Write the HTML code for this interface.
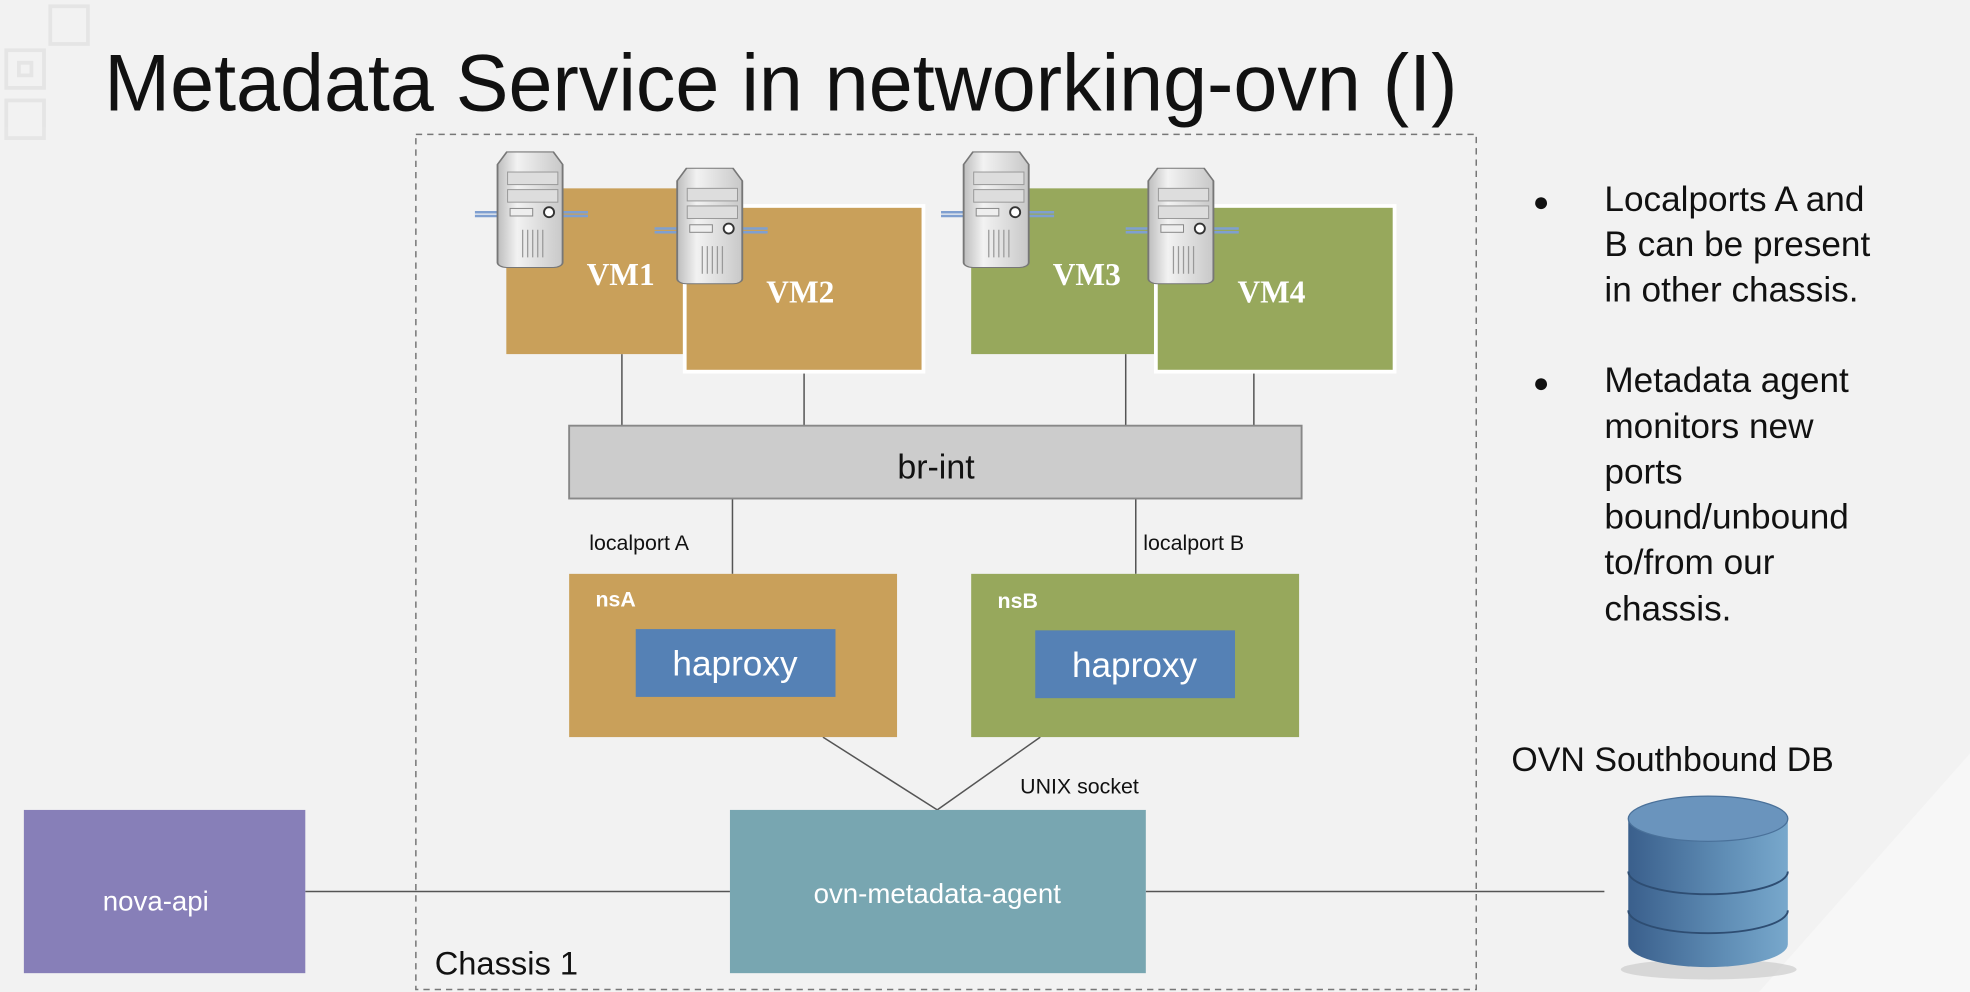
<!DOCTYPE html>
<html><head><meta charset="utf-8"><style>html,body{margin:0;padding:0;background:#f2f2f2;}svg{display:block}</style></head>
<body>
<svg width="1970" height="992" viewBox="0 0 1568 790" preserveAspectRatio="none" xmlns="http://www.w3.org/2000/svg" font-family="Liberation Sans, sans-serif">
<defs>
<linearGradient id="cyl" x1="0" x2="1" y1="0" y2="0"><stop offset="0" stop-color="#3a5f8c"/><stop offset="0.6" stop-color="#5f8db5"/><stop offset="1" stop-color="#78a8cc"/></linearGradient>
<linearGradient id="srv" x1="0" x2="1"><stop offset="0" stop-color="#bdbdbd"/><stop offset="0.3" stop-color="#f2f2f2"/><stop offset="1" stop-color="#c8c8c8"/></linearGradient>
<g id="server">
<path d="M-22,48 h90 M-22,51 h90" stroke="#7f9fd0" stroke-width="2"/>
<path d="M4,0 h20 l4,10 v78 a4,4 0 0 1 -4,4 h-20 a4,4 0 0 1 -4,-4 v-78 z" transform="translate(-4,0) scale(1.85,1)" fill="url(#srv)" stroke="#777" stroke-width="0.8"/>
<rect x="4" y="16" width="40" height="10" fill="#ddd" stroke="#999" stroke-width="0.8"/>
<rect x="4" y="30" width="40" height="10" fill="#ddd" stroke="#999" stroke-width="0.8"/>
<rect x="6" y="45" width="18" height="6" fill="#eee" stroke="#888" stroke-width="0.8"/>
<circle cx="37" cy="48" r="4" fill="#fff" stroke="#333" stroke-width="1.5"/>
<path d="M16,62 v22 M20,62 v22 M24,62 v22 M28,62 v22 M32,62 v22" stroke="#999" stroke-width="1"/>
</g>
</defs>
<rect width="1568" height="790" fill="#f2f2f2"/>
<path d="M1568,600 L1400,790 L1568,790 Z" fill="#f7f7f7"/>
<g stroke="#e2e2e2" fill="none" stroke-width="3" opacity="0.8">
<rect x="5" y="40" width="30" height="30"/><rect x="15" y="50" width="10" height="10"/><rect x="40" y="5" width="30" height="30"/><rect x="5" y="80" width="30" height="30"/>
</g>
<text x="83" y="88" font-size="64" fill="#111" textLength="1077" lengthAdjust="spacingAndGlyphs">Metadata Service in networking-ovn (I)</text>
<rect x="331" y="107" width="844" height="681" fill="none" stroke="#777" stroke-width="1.2" stroke-dasharray="5,4"/>
<g stroke="#555" stroke-width="1.2">
<line x1="495" y1="282" x2="495" y2="339"/><line x1="640" y1="296" x2="640" y2="339"/>
<line x1="896" y1="282" x2="896" y2="339"/><line x1="998" y1="296" x2="998" y2="339"/>
<line x1="583" y1="397" x2="583" y2="457"/><line x1="904" y1="397" x2="904" y2="457"/>
<line x1="655" y1="587" x2="746" y2="645"/><line x1="828" y1="587" x2="746" y2="645"/>
<line x1="243" y1="710" x2="581" y2="710"/><line x1="912" y1="710" x2="1277" y2="710"/>
</g>
<rect x="403" y="150" width="142" height="132" fill="#c9a05a"/>
<rect x="545" y="164" width="190" height="132" fill="#c9a05a" stroke="#fff" stroke-width="3"/>
<rect x="773" y="150" width="147" height="132" fill="#97a85c"/>
<rect x="920" y="164" width="190" height="132" fill="#97a85c" stroke="#fff" stroke-width="3"/>
<use href="#server" x="400" y="121"/><use href="#server" x="543" y="134"/>
<use href="#server" x="771" y="121"/><use href="#server" x="918" y="134"/>
<g font-family="Liberation Serif, serif" font-weight="bold" font-size="25" fill="#fff" text-anchor="middle">
<text x="494" y="227">VM1</text><text x="637" y="241">VM2</text><text x="865" y="227">VM3</text><text x="1012" y="241">VM4</text>
</g>
<rect x="453" y="339" width="583" height="58" fill="#cccccc" stroke="#888" stroke-width="1.5"/>
<text x="745" y="381" font-size="27" text-anchor="middle" fill="#111">br-int</text>
<text x="469" y="438" font-size="17" fill="#111">localport A</text>
<text x="910" y="438" font-size="17" fill="#111">localport B</text>
<rect x="453" y="457" width="261" height="130" fill="#c9a05a"/>
<rect x="773" y="457" width="261" height="130" fill="#97a85c"/>
<text x="474" y="483" font-size="17" font-weight="bold" fill="#fff">nsA</text>
<text x="794" y="484" font-size="17" font-weight="bold" fill="#fff">nsB</text>
<rect x="506" y="501" width="159" height="54" fill="#5581b5"/>
<rect x="824" y="502" width="159" height="54" fill="#5581b5"/>
<text x="585" y="538" font-size="28" fill="#fff" text-anchor="middle">haproxy</text>
<text x="903" y="539" font-size="28" fill="#fff" text-anchor="middle">haproxy</text>
<text x="812" y="632" font-size="17" fill="#111">UNIX socket</text>
<rect x="581" y="645" width="331" height="130" fill="#78a6b1"/>
<text x="746" y="719" font-size="22" fill="#fff" text-anchor="middle">ovn-metadata-agent</text>
<rect x="19" y="645" width="224" height="130" fill="#877fb8"/>
<text x="124" y="725" font-size="22" fill="#fff" text-anchor="middle">nova-api</text>
<text x="346" y="776" font-size="26" fill="#111">Chassis 1</text>
<text x="1203" y="614" font-size="27" fill="#111">OVN Southbound DB</text>
<ellipse cx="1360" cy="772" rx="70" ry="8" fill="#ccc" opacity="0.7"/>
<path d="M1296,652 v100 a63,18 0 0 0 127,0 v-100 z" fill="url(#cyl)"/>
<path d="M1296,694 a63,18 0 0 0 127,0 M1296,725 a63,18 0 0 0 127,0" fill="none" stroke="#2e4d72" stroke-width="1.5"/>
<ellipse cx="1359.5" cy="652" rx="63.5" ry="18" fill="#6a94bd" stroke="#4a719a" stroke-width="1"/>
<g font-size="28" fill="#111">
<text x="1220" y="168" font-size="22">●</text>
<text x="1277" y="168">Localports A and</text>
<text x="1277" y="204">B can be present</text>
<text x="1277" y="240">in other chassis.</text>
<text x="1220" y="312" font-size="22">●</text>
<text x="1277" y="312">Metadata agent</text>
<text x="1277" y="349">monitors new</text>
<text x="1277" y="385">ports</text>
<text x="1277" y="421">bound/unbound</text>
<text x="1277" y="457">to/from our</text>
<text x="1277" y="494">chassis.</text>
</g>
</svg>
</body></html>
